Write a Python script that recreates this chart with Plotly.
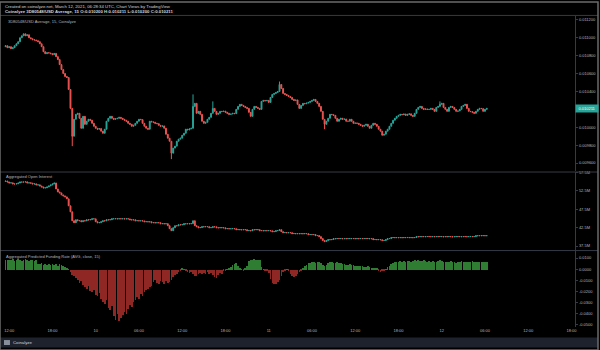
import pandas as pd
import plotly.graph_objects as go

# ---------------- data ----------------
times = pd.date_range("2021-03-09 11:30", periods=268, freq="15min")

price_open0 = 0.010900
price_close = [
    0.010911, 0.010889, 0.010900, 0.010878, 0.010889,
    0.010911, 0.010933, 0.010956, 0.011000, 0.011022,
    0.011044, 0.011022, 0.011033, 0.011000, 0.010989,
    0.010978, 0.010975, 0.010967, 0.010956, 0.010933,
    0.010900, 0.010844, 0.010822, 0.010833, 0.010830,
    0.010822, 0.010811, 0.010825, 0.010789, 0.010756,
    0.010700, 0.010644, 0.010600, 0.010567, 0.010556,
    0.010422, 0.010211, 0.009900, 0.010089, 0.010144,
    0.010156, 0.010100, 0.009989, 0.010122, 0.010033,
    0.010067, 0.010089, 0.010078, 0.010044, 0.010011,
    0.009989, 0.009978, 0.009985, 0.009956, 0.009933,
    0.009978, 0.010067, 0.010100, 0.010122, 0.010100,
    0.010089, 0.010095, 0.010100, 0.010111, 0.010100,
    0.010089, 0.010078, 0.010067, 0.010044, 0.010033,
    0.010011, 0.010022, 0.010044, 0.010067, 0.010089,
    0.010085, 0.010044, 0.010011, 0.009989, 0.009978,
    0.010067, 0.010060, 0.010056, 0.010044, 0.010040,
    0.010022, 0.010011, 0.010015, 0.009989, 0.009922,
    0.009878, 0.009844, 0.009711, 0.009767, 0.009789,
    0.009844, 0.009867, 0.009878, 0.009911, 0.009933,
    0.009978, 0.009970, 0.009982, 0.009989, 0.010233,
    0.010267, 0.010156, 0.010178, 0.010144, 0.010067,
    0.010044, 0.010056, 0.010089, 0.010111, 0.010156,
    0.010211, 0.010178, 0.010144, 0.010156, 0.010178,
    0.010175, 0.010180, 0.010167, 0.010156, 0.010144,
    0.010148, 0.010156, 0.010152, 0.010200, 0.010233,
    0.010256, 0.010244, 0.010233, 0.010222, 0.010211,
    0.010167, 0.010122, 0.010200, 0.010233, 0.010222,
    0.010211, 0.010200, 0.010289, 0.010300, 0.010295,
    0.010300, 0.010278, 0.010333, 0.010367, 0.010378,
    0.010389, 0.010400, 0.010478, 0.010433, 0.010378,
    0.010367, 0.010356, 0.010344, 0.010333, 0.010311,
    0.010300, 0.010305, 0.010256, 0.010211, 0.010244,
    0.010267, 0.010262, 0.010270, 0.010278, 0.010289,
    0.010300, 0.010311, 0.010289, 0.010267, 0.010233,
    0.010178, 0.010089, 0.010033, 0.010067, 0.010100,
    0.010144, 0.010140, 0.010133, 0.010100, 0.010067,
    0.010089, 0.010100, 0.010089, 0.010092, 0.010067,
    0.010067, 0.010089, 0.010067, 0.010044, 0.010048,
    0.010044, 0.010033, 0.010022, 0.010011, 0.010022,
    0.010033, 0.010011, 0.009989, 0.010022, 0.010044,
    0.010033, 0.010011, 0.009978, 0.009956, 0.009911,
    0.009922, 0.009956, 0.009978, 0.010011, 0.010044,
    0.010078, 0.010100, 0.010122, 0.010133, 0.010144,
    0.010140, 0.010148, 0.010133, 0.010144, 0.010150,
    0.010133, 0.010122, 0.010156, 0.010200, 0.010222,
    0.010233, 0.010211, 0.010200, 0.010205, 0.010198,
    0.010200, 0.010211, 0.010200, 0.010178, 0.010222,
    0.010233, 0.010256, 0.010267, 0.010222, 0.010200,
    0.010178, 0.010222, 0.010233, 0.010222, 0.010200,
    0.010178, 0.010182, 0.010200, 0.010233, 0.010244,
    0.010256, 0.010211, 0.010178, 0.010175, 0.010167,
    0.010156, 0.010178, 0.010200, 0.010211, 0.010208,
    0.010178, 0.010200, 0.010211,
]
# candles whose wicks reach well beyond the body: (index, price)
price_high_wicks = [(104, 0.010367), (115, 0.010289), (152, 0.010511), (241, 0.010289)]
price_low_wicks = [(37, 0.009789), (92, 0.009644), (177, 0.009978)]

oi_open0 = 55.10
oi_close = [
    55.20, 54.93, 54.66, 54.70, 54.39,
    54.39, 54.45, 54.66, 54.93, 54.90,
    54.93, 54.98, 54.66, 54.70, 54.62,
    54.39, 54.42, 54.12, 54.15, 53.85,
    53.58, 53.31, 53.35, 53.58, 53.85,
    54.12, 54.39, 54.66, 53.04, 52.23,
    51.96, 51.42, 51.15, 50.88, 50.34,
    48.45, 46.82, 44.39, 43.85, 44.66,
    44.39, 44.42, 44.12, 44.39, 44.35,
    44.66, 44.62, 44.70, 44.93, 44.90,
    44.12, 43.85, 43.88, 44.12, 44.39,
    44.35, 44.66, 44.62, 44.68, 44.93,
    44.93, 44.96, 44.90, 44.95, 44.92,
    44.94, 44.90, 44.93, 44.89, 44.66,
    44.62, 44.66, 44.39, 44.42, 44.36,
    44.39, 44.35, 44.12, 44.15, 44.10,
    44.12, 43.85, 43.88, 43.82, 43.86,
    43.85, 43.58, 43.62, 43.55, 43.60,
    43.04, 42.23, 41.69, 42.50, 43.04,
    43.00, 43.31, 43.28, 43.33, 43.58,
    43.55, 43.60, 43.57, 43.62, 44.39,
    43.04, 42.77, 42.50, 42.54, 42.77,
    42.74, 42.80, 42.77, 42.50, 42.53,
    42.77, 42.73, 42.50, 42.47, 42.52,
    42.50, 42.46, 42.23, 42.26, 42.20,
    42.23, 42.27, 42.21, 41.96, 41.99,
    41.96, 41.93, 41.98, 41.95, 41.69,
    41.72, 41.66, 41.96, 41.93, 41.99,
    41.96, 41.69, 41.72, 41.66, 41.70,
    41.68, 41.71, 41.65, 41.42, 41.45,
    41.69, 41.72, 41.96, 41.42, 41.15,
    41.18, 41.12, 41.16, 41.13, 40.88,
    40.91, 40.86, 40.90, 40.87, 40.89,
    40.86, 40.90, 40.88, 40.61, 40.64,
    40.60, 40.63, 40.34, 40.37, 40.07,
    39.53, 38.99, 38.72, 38.99, 39.26,
    39.23, 39.28, 39.53, 39.50, 39.56,
    39.52, 39.55, 39.50, 39.54, 39.51,
    39.53, 39.56, 39.52, 39.55, 39.50,
    39.54, 39.51, 39.56, 39.52, 39.55,
    39.52, 39.55, 39.50, 39.53, 39.26,
    39.29, 39.24, 39.27, 39.23, 38.99,
    39.02, 39.26, 39.53, 39.56, 39.80,
    39.83, 39.78, 39.82, 39.79, 39.81,
    39.78, 39.82, 39.80, 39.84, 39.79,
    39.81, 39.78, 39.83, 40.07, 40.04,
    40.08, 40.05, 40.09, 40.06, 40.10,
    40.07, 40.04, 40.08, 40.05, 40.09,
    40.06, 40.10, 40.07, 40.04, 40.08,
    40.05, 40.09, 40.06, 40.03, 40.07,
    40.10, 40.06, 40.08, 40.05, 40.09,
    40.07, 40.04, 40.08, 40.11, 40.06,
    40.08, 40.34, 40.31, 40.36, 40.33,
    40.35, 40.32, 40.34,
]

funding_rate = [
    0.0085, 0.0090, 0.0082, 0.0088, 0.0093, 0.0080, 0.0087, 0.0091, 0.0084, 0.0078,
    0.0089, 0.0092, 0.0085, 0.0081, 0.0088, 0.0086, 0.0079, 0.0083,
    0.0052, 0.0047, 0.0055, 0.0041, 0.0050, 0.0045, 0.0053, 0.0038, 0.0049, 0.0044,
    0.0051, 0.0036, 0.0046, 0.0042, 0.0030, 0.0024, 0.0012, 0.0005,
    -0.0020, -0.0045, -0.0060, -0.0075,
    -0.0095, -0.0120, -0.0105, -0.0140, -0.0155,
    -0.0170, -0.0150, -0.0190, -0.0205, -0.0185,
    -0.0225, -0.0240, -0.0210, -0.0265, -0.0290,
    -0.0310, -0.0275, -0.0340, -0.0365, -0.0330,
    -0.0420, -0.0455, -0.0400, -0.0460, -0.0435,
    -0.0410, -0.0380, -0.0395, -0.0350, -0.0320,
    -0.0335, -0.0290, -0.0270, -0.0245, -0.0260,
    -0.0220, -0.0235, -0.0200, -0.0185, -0.0170,
    -0.0160, -0.0145, -0.0110, -0.0095, -0.0120,
    -0.0125, -0.0100, -0.0115, -0.0130, -0.0105,
    -0.0120, -0.0110, -0.0095, -0.0070, -0.0050,
    -0.0040, -0.0025, -0.0010, 0.0008, 0.0004,
    -0.0010, -0.0025, -0.0030, -0.0020, -0.0035,
    -0.0055, -0.0060, -0.0040, -0.0030, -0.0035,
    -0.0030, -0.0040, -0.0025, -0.0035, -0.0030,
    -0.0050, -0.0065, -0.0075, -0.0045, -0.0030,
    -0.0035, -0.0015, -0.0005, 0.0003, 0.0010,
    0.0025, 0.0040, 0.0050, 0.0055, 0.0035,
    0.0015, 0.0005, -0.0005, 0.0008, 0.0030,
    0.0080, 0.0090, 0.0085, 0.0092, 0.0088,
    0.0090, 0.0086, 0.0020, 0.0005, -0.0005,
    -0.0010, -0.0030, -0.0085, -0.0120, -0.0130,
    -0.0125, -0.0110, -0.0095, -0.0060, -0.0020,
    -0.0010, 0.0005, -0.0015, -0.0035, -0.0060,
    -0.0065, -0.0055, -0.0040, -0.0020, -0.0005,
    0.0010, 0.0030, 0.0045, 0.0060, 0.0055,
    0.0065, 0.0070, 0.0060, 0.0072, 0.0068,
    0.0055, 0.0040, 0.0030, 0.0045, 0.0060,
    0.0065, 0.0070, 0.0062, 0.0058, 0.0066,
    0.0060, 0.0055, 0.0048, 0.0052, 0.0045,
    0.0040, 0.0046, 0.0038, 0.0042, 0.0035,
    0.0030, 0.0036, 0.0028, 0.0032, 0.0025,
    0.0022, 0.0028, 0.0020, 0.0015, 0.0018,
    0.0012, 0.0008, -0.0010, -0.0020, -0.0015,
    -0.0010, 0.0005, 0.0020, 0.0035, 0.0050,
    0.0060, 0.0068, 0.0072, 0.0065, 0.0075,
    0.0070, 0.0078, 0.0072, 0.0080, 0.0074,
    0.0068, 0.0076, 0.0082, 0.0079, 0.0085,
    0.0080, 0.0075, 0.0083, 0.0078, 0.0072,
    0.0076, 0.0070, 0.0074, 0.0068, 0.0072,
    0.0078, 0.0082, 0.0075, 0.0070, 0.0066,
    0.0072, 0.0068, 0.0074, 0.0070, 0.0065,
    0.0062, 0.0068, 0.0072, 0.0075, 0.0070,
    0.0066, 0.0071, 0.0064, 0.0069, 0.0073,
    0.0070, 0.0067, 0.0072, 0.0068, 0.0065,
    0.0070, 0.0066, 0.0068,
]

price_ticks = [0.0096, 0.0098, 0.0100, 0.0102, 0.0104, 0.0106, 0.0108, 0.0110, 0.0112]
oi_ticks = [37.5, 42.5, 47.5, 52.5, 57.5]
funding_ticks = [-0.05, -0.04, -0.03, -0.02, -0.01, 0.0, 0.01]
time_ticks = pd.date_range("2021-03-09 12:00", periods=14, freq="6h")
time_tick_labels = ["12:00", "18:00", "10", "06:00", "12:00", "18:00", "11",
                    "06:00", "12:00", "18:00", "12", "06:00", "12:00", "18:00"]

# ---------------- helpers ----------------
UP, DOWN = "#26a69a", "#ef5350"
HIST_UP, HIST_DOWN = "#2f7d32", "#8f2724"
TEXT, AXIS_TEXT, LINE = "#d1d4dc", "#b2b5be", "#363a45"
FONT = "Liberation Sans, Arial, sans-serif"
W, H = 600, 350


def ohlc(first_open, closes, high_wicks=(), low_wicks=()):
    opens = [first_open] + closes[:-1]
    highs = [max(o, c) for o, c in zip(opens, closes)]
    lows = [min(o, c) for o, c in zip(opens, closes)]
    for i, v in high_wicks:
        highs[i] = v
    for i, v in low_wicks:
        lows[i] = v
    return opens, highs, lows, closes


def py(px):
    """vertical pixel -> paper fraction"""
    return 1 - px / H


p_o, p_h, p_l, p_c = ohlc(price_open0, price_close, price_high_wicks, price_low_wicks)
o_o, o_h, o_l, o_c = ohlc(oi_open0, oi_close)

candle_style = dict(
    increasing=dict(line=dict(color=UP, width=1), fillcolor=UP),
    decreasing=dict(line=dict(color=DOWN, width=1), fillcolor=DOWN),
    hoverinfo="skip", showlegend=False,
)

fig = go.Figure()
fig.add_trace(go.Candlestick(x=times, open=p_o, high=p_h, low=p_l, close=p_c,
                             xaxis="x", yaxis="y", **candle_style))
fig.add_trace(go.Candlestick(x=times, open=o_o, high=o_h, low=o_l, close=o_c,
                             xaxis="x2", yaxis="y2", **candle_style))
fig.add_trace(go.Bar(
    x=times, y=funding_rate, xaxis="x3", yaxis="y3",
    marker=dict(color=[HIST_UP if v >= 0 else HIST_DOWN for v in funding_rate],
                line=dict(width=0)),
    width=15 * 60 * 1000 * 0.35, hoverinfo="skip", showlegend=False,
))

X0, X1 = 2 / W, 577 / W
x_range = [pd.Timestamp("2021-03-09 11:00"), pd.Timestamp("2021-03-12 18:30")]

common_x = dict(showgrid=False, zeroline=False, showline=False,
                rangeslider=dict(visible=False), domain=[X0, X1])
common_y = dict(side="right", showgrid=False, zeroline=False, showline=True,
                linecolor=LINE, linewidth=1, ticks="outside", ticklen=2,
                tickcolor=LINE, tickfont=dict(family=FONT, size=4, color=AXIS_TEXT))

fig.update_layout(
    width=W, height=H, margin=dict(l=0, r=0, t=0, b=0),
    paper_bgcolor="#000000", plot_bgcolor="#000000", showlegend=False,
    font=dict(family=FONT, color=TEXT),
    xaxis=dict(anchor="y", range=x_range, showticklabels=False, **common_x),
    xaxis2=dict(anchor="y2", matches="x", showticklabels=False, **common_x),
    xaxis3=dict(anchor="y3", matches="x", tickvals=time_ticks, ticktext=time_tick_labels,
                tickfont=dict(family=FONT, size=4, color=AXIS_TEXT), ticks="",
                **common_x),
    yaxis=dict(anchor="x", domain=[py(170), py(14)], range=[0.009511, 0.011244],
               tickvals=price_ticks, ticktext=[f"{v:.6f}" for v in price_ticks], **common_y),
    yaxis2=dict(anchor="x2", domain=[py(250), py(171)], range=[36.28, 57.64],
                tickvals=oi_ticks, ticktext=[f"{v:.1f}M" for v in oi_ticks], **common_y),
    yaxis3=dict(anchor="x3", domain=[py(327), py(250)], range=[-0.0520, 0.0167],
                tickvals=funding_ticks, ticktext=[f"{v:.4f}".replace("-0.0000", "0.0000") for v in funding_ticks],
                **common_y),
    bargap=0,
)

shapes = [
    # header rule, pane separators
    dict(type="line", xref="paper", yref="paper", x0=0, x1=1, y0=py(13.5), y1=py(13.5),
         line=dict(color=LINE, width=1)),
    dict(type="line", xref="paper", yref="paper", x0=0, x1=1, y0=py(171), y1=py(171),
         line=dict(color=LINE, width=1)),
    dict(type="line", xref="paper", yref="paper", x0=0, x1=1, y0=py(250), y1=py(250),
         line=dict(color=LINE, width=1)),
    # footer bar
    dict(type="rect", xref="paper", yref="paper", x0=0, x1=1, y0=py(347.5), y1=py(337.5),
         fillcolor="#1e222d", line=dict(width=0), layer="below"),
    # logo mark
    dict(type="rect", xref="paper", yref="paper", x0=4 / W, x1=10 / W, y0=py(345), y1=py(340),
         fillcolor="#8a8f9c", line=dict(width=0)),
    # frame
    dict(type="rect", xref="paper", yref="paper", x0=0, x1=1, y0=0, y1=1,
         line=dict(color="#6b6b6b", width=1.5)),
]
fig.update_layout(shapes=shapes)

last_o, last_h, last_l, last_c = p_o[-1], p_h[-1], p_l[-1], p_c[-1]
annotations = [
    dict(text="Created on coinalyze.net, March 12, 2021, 06:28:34 UTC, Chart Views by TradingView",
         x=3 / W, y=py(4.5), xanchor="left", yanchor="middle", font=dict(size=4.3, color=TEXT)),
    dict(text=(f"<b>Coinalyze 3D80548/USD Average, 15 O:{last_o:.6f} H:{last_h:.6f} "
               f"L:{last_l:.6f} C:{last_c:.6f}</b>"),
         x=3 / W, y=py(10), xanchor="left", yanchor="middle", font=dict(size=4.3, color=TEXT)),
    dict(text="3D80548/USD Average, 15, Coinalyze",
         x=6 / W, y=py(19.5), xanchor="left", yanchor="middle", font=dict(size=4, color=AXIS_TEXT)),
    dict(text="Aggregated Open Interest",
         x=4 / W, y=py(176), xanchor="left", yanchor="middle", font=dict(size=4, color=AXIS_TEXT)),
    dict(text="Aggregated Predicted Funding Rate (AVG, close, 15)",
         x=4 / W, y=py(255.5), xanchor="left", yanchor="middle", font=dict(size=4, color=AXIS_TEXT)),
    dict(text="Coinalyze", x=11 / W, y=py(342.5), xanchor="left", yanchor="middle",
         font=dict(size=4.3, color=TEXT)),
    # last price label on the price scale
    dict(text=f"{last_c:.6f}", xref="paper", yref="y", x=X1, y=last_c, xanchor="left",
         yanchor="middle", bgcolor=UP, borderpad=1, width=20,
         font=dict(size=4, color="#ffffff")),
]
for a in annotations:
    a.setdefault("xref", "paper")
    a.setdefault("yref", "paper")
    a["showarrow"] = False
fig.update_layout(annotations=annotations)

fig.write_html("out.html")
